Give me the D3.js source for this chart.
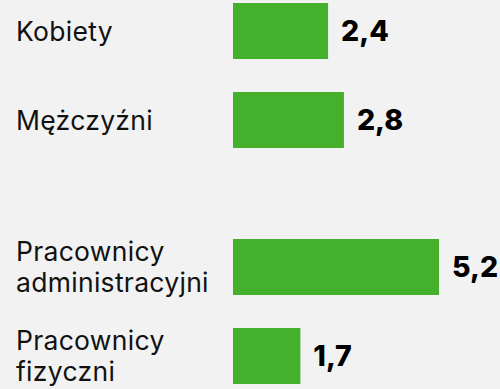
<!DOCTYPE html>
<html lang="pl">
<head>
<meta charset="utf-8">
<script src="https://cdn.jsdelivr.net/npm/d3@7"></script>
<style>
  html, body { margin: 0; padding: 0; background: #f2f2f2; }
  svg { display: block; }
</style>
</head>
<body>
<div id="chart"></div>
<script>
// Kategorie (etykiety z podziałem na wiersze), wartości i grupy słupków
const categories = ["Kobiety", "Mężczyźni", "Pracownicy\nadministracyjni", "Pracownicy\nfizyczni"];
const values = [2.4, 2.8, 5.2, 1.7];
const groups = [0, 0, 1, 1];
const slots = [0, 1, 0, 1];

const width = 500, height = 389;
const green = "#44b02b";

const svg = d3.select("#chart").append("svg")
  .attr("width", width)
  .attr("height", height);

svg.append("rect")
  .attr("width", width).attr("height", height)
  .attr("fill", "#f2f2f2");

const x = d3.scaleLinear()
  .domain([0, d3.max(values)])
  .range([233, 439]);

// Dwie grupy słupków, w każdej po dwa słupki
const yGroup = d3.scaleBand()
  .domain([0, 1])
  .range([3, 3 + 472]);

const yInner = d3.scaleBand()
  .domain([0, 1])
  .range([0, 145])
  .paddingInner(33 / 89)
  .paddingOuter(0);

const pl = d3.formatLocale({ decimal: ",", thousands: " ", grouping: [3], currency: ["", " zł"] });
const fmt = pl.format(".1f");

const data = categories.map((c, i) => ({
  label: c, value: values[i], group: groups[i], slot: slots[i]
}));

const yTop = d => yGroup(d.group) + yInner(d.slot);
const bw = yInner.bandwidth();

const row = svg.selectAll("g.row")
  .data(data)
  .join("g")
  .attr("class", "row");

row.append("rect")
  .attr("x", x(0))
  .attr("y", d => yTop(d))
  .attr("width", d => x(d.value) - x(0))
  .attr("height", bw)
  .attr("fill", green);

const lineH = 31;
const capHalf = 9.7;

row.append("text")
  .attr("font-family", "Inter, 'Noto Sans', sans-serif")
  .attr("font-size", 26.5)
  .attr("letter-spacing", 0.3)
  .attr("fill", "#111")
  .each(function (d) {
    const lines = d.label.split("\n");
    const cy = yTop(d) + bw / 2;
    const first = cy - (lines.length - 1) * lineH / 2 + capHalf;
    d3.select(this).selectAll("tspan")
      .data(lines)
      .join("tspan")
      .attr("x", 16)
      .attr("y", (l, j) => first + j * lineH)
      .text(l => l);
  });

row.append("text")
  .attr("x", d => x(d.value) + 13)
  .attr("y", d => yTop(d) + bw / 2 + 9.5)
  .attr("font-family", "Inter, 'Noto Sans', sans-serif")
  .attr("font-weight", 800)
  .attr("font-size", 28.5)
  .attr("fill", "#000")
  .text(d => fmt(d.value));
</script>
</body>
</html>
